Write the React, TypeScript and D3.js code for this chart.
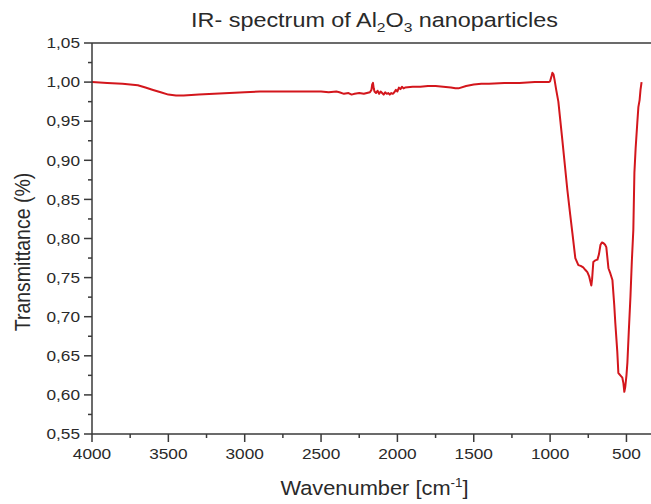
import React from "react";
import * as d3 from "d3";

const wavenumbers = [4000, 3900, 3800, 3750, 3700, 3650, 3600, 3550, 3500, 3450, 3400, 3300, 3200, 3100, 3000, 2900, 2800, 2700, 2600, 2500, 2450, 2400, 2380, 2350, 2320, 2300, 2280, 2250, 2220, 2200, 2180, 2170, 2165, 2160, 2155, 2150, 2140, 2130, 2120, 2110, 2100, 2090, 2080, 2070, 2060, 2050, 2040, 2030, 2020, 2010, 2000, 1990, 1980, 1970, 1960, 1950, 1900, 1850, 1800, 1750, 1700, 1650, 1620, 1600, 1550, 1500, 1450, 1400, 1300, 1200, 1100, 1050, 1010, 1000, 990, 985, 978, 970, 960, 946, 920, 887, 868, 854, 835, 815, 800, 783, 770, 756, 745, 735, 730, 725, 717, 705, 690, 680, 670, 660, 650, 640, 632, 618, 605, 592, 580, 573, 560, 553, 540, 527, 520, 514, 508, 500, 494, 485, 474, 465, 455, 448, 440, 429, 422, 414, 408, 401];

const transmittance = [1.000, 0.999, 0.998, 0.997, 0.996, 0.993, 0.990, 0.987, 0.984, 0.983, 0.983, 0.984, 0.985, 0.986, 0.987, 0.988, 0.988, 0.988, 0.988, 0.988, 0.987, 0.988, 0.987, 0.985, 0.986, 0.984, 0.985, 0.986, 0.985, 0.986, 0.987, 0.990, 0.997, 0.999, 0.992, 0.988, 0.986, 0.989, 0.985, 0.988, 0.986, 0.984, 0.987, 0.985, 0.986, 0.984, 0.986, 0.985, 0.987, 0.990, 0.988, 0.993, 0.991, 0.994, 0.992, 0.993, 0.994, 0.994, 0.995, 0.995, 0.994, 0.993, 0.992, 0.992, 0.995, 0.997, 0.998, 0.998, 0.999, 0.999, 1.000, 1.000, 1.000, 1.001, 1.008, 1.012, 1.010, 1.002, 0.990, 0.975, 0.926, 0.862, 0.830, 0.807, 0.775, 0.766, 0.765, 0.763, 0.760, 0.757, 0.752, 0.744, 0.740, 0.748, 0.770, 0.772, 0.773, 0.780, 0.792, 0.795, 0.794, 0.792, 0.789, 0.762, 0.755, 0.747, 0.715, 0.692, 0.655, 0.628, 0.625, 0.622, 0.615, 0.604, 0.610, 0.625, 0.641, 0.680, 0.725, 0.770, 0.811, 0.884, 0.915, 0.948, 0.968, 0.977, 0.990, 1.000];

const xMajorTicks = [4000, 3500, 3000, 2500, 2000, 1500, 1000, 500];
const xMinorTicks = [3750, 3250, 2750, 2250, 1750, 1250, 750];
const yMajorTicks = [0.55, 0.6, 0.65, 0.7, 0.75, 0.8, 0.85, 0.9, 0.95, 1.0, 1.05];
const yMinorTicks = [0.575, 0.625, 0.675, 0.725, 0.775, 0.825, 0.875, 0.925, 0.975, 1.025];

const xDomain = [4000, 300];
const yDomain = [0.55, 1.05];

const W = 651;
const H = 504;
const left = 92;
const right = 657;
const top = 43;
const bottom = 434;
const axisColor = "#3a3a3a";
const textColor = "#2a2a2a";
const font = "'Liberation Sans', Arial, sans-serif";

export default function App() {
  const x = d3.scaleLinear().domain(xDomain).range([left, right]);
  const y = d3.scaleLinear().domain(yDomain).range([bottom, top]);
  const pts = wavenumbers.map((w, i) => [w, transmittance[i]] as [number, number]);
  const line = d3
    .line<[number, number]>()
    .x((d) => x(d[0]))
    .y((d) => y(d[1]));
  const fmtY = (v: number) => v.toFixed(2).replace(".", ",");

  return (
    <svg
      width={W}
      height={H}
      style={{ position: "absolute", left: 0, top: 0, background: "#fff" }}
      fontFamily={font}
    >
      <rect x={0} y={0} width={W} height={H} fill="#fff" />
      {/* title */}
      <text transform={`translate(${(left + right) / 2},27) scale(1.2,1)`} textAnchor="middle" fontSize={19.5} fill={textColor}>
        IR- spectrum of Al
        <tspan fontSize={13} dy={5}>2</tspan>
        <tspan dy={-5}>O</tspan>
        <tspan fontSize={13} dy={5}>3</tspan>
        <tspan dy={-5}> nanoparticles</tspan>
      </text>
      {/* data line */}
      <path d={line(pts) || ""} fill="none" stroke="#d3161c" strokeWidth={2} strokeLinejoin="round" />
      {/* frame */}
      <line x1={left} x2={right} y1={top} y2={top} stroke={axisColor} strokeWidth={1.5} />
      <line x1={left} x2={right} y1={bottom} y2={bottom} stroke={axisColor} strokeWidth={1.5} />
      <line x1={left} x2={left} y1={top} y2={bottom} stroke={axisColor} strokeWidth={1.5} />
      {/* x ticks */}
      {xMajorTicks.map((t) => (
        <g key={"xm" + t}>
          <line x1={x(t)} x2={x(t)} y1={bottom} y2={bottom + 8} stroke={axisColor} strokeWidth={1.5} />
          <text transform={`translate(${x(t)},${bottom + 25}) scale(1.15,1)`} textAnchor="middle" fontSize={15} fill={textColor}>
            {t}
          </text>
        </g>
      ))}
      {xMinorTicks.map((t) => (
        <line key={"xn" + t} x1={x(t)} x2={x(t)} y1={bottom} y2={bottom + 4} stroke={axisColor} strokeWidth={1.5} />
      ))}
      {/* y ticks */}
      {yMajorTicks.map((t) => (
        <g key={"ym" + t}>
          <line x1={left - 8} x2={left} y1={y(t)} y2={y(t)} stroke={axisColor} strokeWidth={1.5} />
          <text transform={`translate(${left - 12},${y(t)}) scale(1.15,1)`} dy="0.35em" textAnchor="end" fontSize={15} fill={textColor}>
            {fmtY(t)}
          </text>
        </g>
      ))}
      {yMinorTicks.map((t) => (
        <line key={"yn" + t} x1={left - 4} x2={left} y1={y(t)} y2={y(t)} stroke={axisColor} strokeWidth={1.5} />
      ))}
      {/* axis labels */}
      <text transform={`translate(${(left + right) / 2},495) scale(1.12,1)`} textAnchor="middle" fontSize={19.5} fill={textColor}>
        Wavenumber [cm
        <tspan fontSize={12} dy={-8}>-1</tspan>
        <tspan dy={8}>]</tspan>
      </text>
      <text
        transform={`translate(30, 252) scale(1.15,1) rotate(-90)`}
        textAnchor="middle"
        fontSize={19.5}
        fill={textColor}
      >
        Transmittance (%)
      </text>
    </svg>
  );
}
